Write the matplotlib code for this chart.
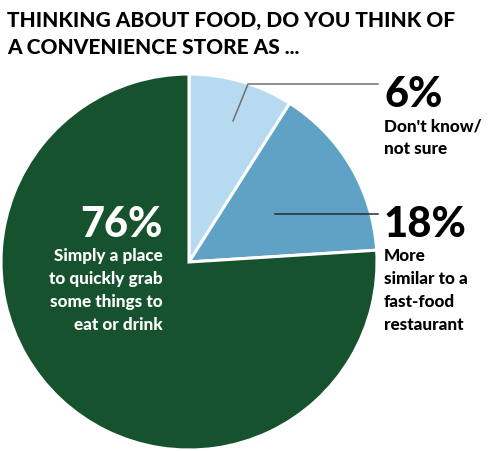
import matplotlib
matplotlib.use("Agg")
import matplotlib.pyplot as plt

# data
pct_labels = ["6%", "18%", "76%"]
answers = ["Don't know/\nnot sure",
           "More\nsimilar to a\nfast-food\nrestaurant",
           "Simply a place\nto quickly grab\nsome things to\neat or drink"]
# wedge sizes as drawn (the artwork does not follow the labels exactly)
wedge_sizes = [9, 15, 76]
colors = ["#b6daf0", "#5fa2c6", "#16522d"]
title = "THINKING ABOUT FOOD, DO YOU THINK OF\nA CONVENIENCE STORE AS ..."

W, H = 492, 452
FONT = ["Lato", "DejaVu Sans"]


def Y(py):
    # pixel row (from top) -> data y
    return H - py


fig = plt.figure(figsize=(W / 100, H / 100), dpi=100)
ax = fig.add_axes([0, 0, 1, 1])

# the pie
ax.pie(wedge_sizes, colors=colors, startangle=90, counterclock=False,
       center=(189, Y(263)), radius=188, frame=True,
       wedgeprops=dict(edgecolor="white", linewidth=2.2))
ax.set_xlim(0, W)
ax.set_ylim(0, H)
ax.set_aspect("equal")
ax.axis("off")

# title
for i, line in enumerate(title.split("\n")):
    ax.text(7, Y(27 + i * 27), line, fontsize=15, fontweight="black",
            family=FONT, ha="left", va="baseline")

# leader lines
ax.plot([233, 248, 378], [Y(122), Y(85), Y(85)], color="#707070", lw=1.1)
ax.plot([275, 378], [Y(215), Y(215)], color="#2a2a2a", lw=1.1)

line_gap = 23


def label(x, y_pct, pct, text, ha, color):
    ax.text(x, Y(y_pct), pct, fontsize=30, fontweight="black", family=FONT,
            ha=ha, va="baseline", color=color)
    for i, line in enumerate(text.split("\n")):
        ax.text(x, Y(y_pct + 24 + i * line_gap), line, fontsize=12.3,
                fontweight="black", family=FONT, ha=ha, va="baseline", color=color)


label(384, 107, pct_labels[0], answers[0], "left", "black")
label(384, 237, pct_labels[1], answers[1], "left", "black")
label(163, 237, pct_labels[2], answers[2], "right", "white")

fig.savefig("out.png", dpi=100)
